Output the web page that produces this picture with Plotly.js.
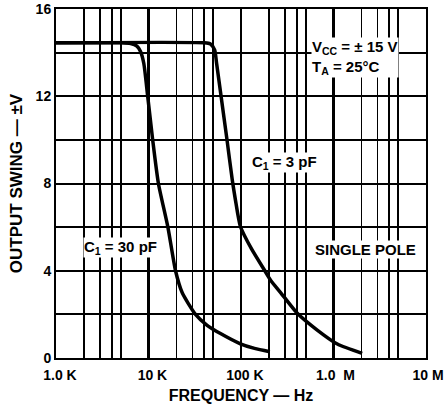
<!DOCTYPE html>
<html>
<head>
<meta charset="utf-8">
<script src="https://cdn.plot.ly/plotly-3.0.1.min.js"></script>
<style>html,body{margin:0;padding:0;background:#fff;}#chart{width:446px;height:412px;}</style>
</head>
<body>
<div id="chart"></div>
<script>
// Frequency (Hz) and output swing (±V)
var freq30pF = [1000, 5000, 6400, 7500, 8200, 8900, 9800, 11100, 12800, 16200, 19600, 23100, 32200, 43000, 60000, 98500, 140000, 205000];
var swing30pF = [14.45, 14.45, 14.42, 14.3, 14.05, 13.5, 12, 10, 8, 6, 4, 3, 2, 1.5, 1.12, 0.65, 0.44, 0.29];

var freq3pF = [1000, 40000, 46800, 51900, 54500, 60900, 70600, 80400, 87000, 98500, 130000, 181000, 208000, 268000, 406000, 667000, 1100000, 2040000];
var swing3pF = [14.45, 14.45, 14.4, 14.13, 13.5, 12, 10, 8.17, 7.25, 6.03, 5, 4, 3.58, 3, 2.05, 1.28, 0.64, 0.21];

var xTickVals = [1e3, 1e4, 1e5, 1e6, 1e7];
var xTickText = ["\u00a01.0 K", "\u00a010 K", "\u00a0100 K", "1.0\u00a0\u00a0M", "10 M"];
var xMinorVals = [2e3, 3e3, 4e3, 5e3, 2e4, 3e4, 4e4, 5e4, 2e5, 3e5, 4e5, 5e5, 2e6, 3e6, 4e6, 5e6];
var yTickVals = [0, 4, 8, 12, 16];
var yTickText = ["0", "4", "8", "12", "16"];

var FONT = "'Liberation Sans', Arial, Helvetica, sans-serif";

var traces = [
  {x: freq30pF, y: swing30pF, mode: "lines", line: {color: "#000", width: 3.5, shape: "spline", smoothing: 0.6}, hoverinfo: "skip"},
  {x: freq3pF, y: swing3pF, mode: "lines", line: {color: "#000", width: 3.5, shape: "spline", smoothing: 0.6}, hoverinfo: "skip"}
];

function ann(text, x, y, xanchor) {
  return {text: text, xref: "paper", yref: "paper", x: x, y: y, xanchor: xanchor || "center", yanchor: "middle",
    align: "left", showarrow: false, bgcolor: "#fff", borderpad: 0,
    font: {family: FONT, size: 15, color: "#000", weight: 700}};
}

var layout = {
  width: 446, height: 412,
  margin: {l: 56, r: 20, t: 9, b: 54},
  paper_bgcolor: "#fff", plot_bgcolor: "#fff",
  showlegend: false,
  font: {family: FONT, color: "#000", weight: 700},
  xaxis: {
    type: "log", range: [3, 7],
    tickmode: "array", tickvals: xTickVals, ticktext: xTickText,
    tickfont: {family: FONT, size: 14, color: "#000", weight: 700},
    ticklabelshift: 2, ticklabelstandoff: 3, ticklabeloverflow: "allow",
    ticks: "", showgrid: true, gridcolor: "#000", gridwidth: 2.5,
    minor: {tickmode: "array", tickvals: xMinorVals, showgrid: true, gridcolor: "#000", gridwidth: 1.7, ticks: ""},
    showline: true, mirror: true, linecolor: "#000", linewidth: 2,
    zeroline: false,
    title: {text: "FREQUENCY — Hz", font: {family: FONT, size: 16, color: "#000", weight: 700}, standoff: 8}
  },
  yaxis: {
    range: [0, 16],
    tickmode: "array", tickvals: yTickVals, ticktext: yTickText,
    tickfont: {family: FONT, size: 14, color: "#000", weight: 700},
    ticks: "", showgrid: true, gridcolor: "#000", gridwidth: 2,
    minor: {dtick: 2, showgrid: true, gridcolor: "#000", gridwidth: 2, ticks: ""},
    showline: true, mirror: true, linecolor: "#000", linewidth: 2,
    zeroline: false,
    title: {text: "OUTPUT SWING — ±V", font: {family: FONT, size: 17, color: "#000", weight: 700}, standoff: 9}
  },
  annotations: [
    ann("V<sub>CC</sub> = ± 15 V<br>T<sub>A</sub> = 25°C", 0.689, 0.861, "left"),
    ann("C<sub>1</sub> = 3 pF", 0.6176, 0.560),
    ann("C<sub>1</sub> = 30 pF", 0.173, 0.3166),
    ann("SINGLE POLE", 0.8365, 0.312)
  ]
};

Plotly.newPlot("chart", traces, layout, {staticPlot: true, displayModeBar: false});
</script>
</body>
</html>
